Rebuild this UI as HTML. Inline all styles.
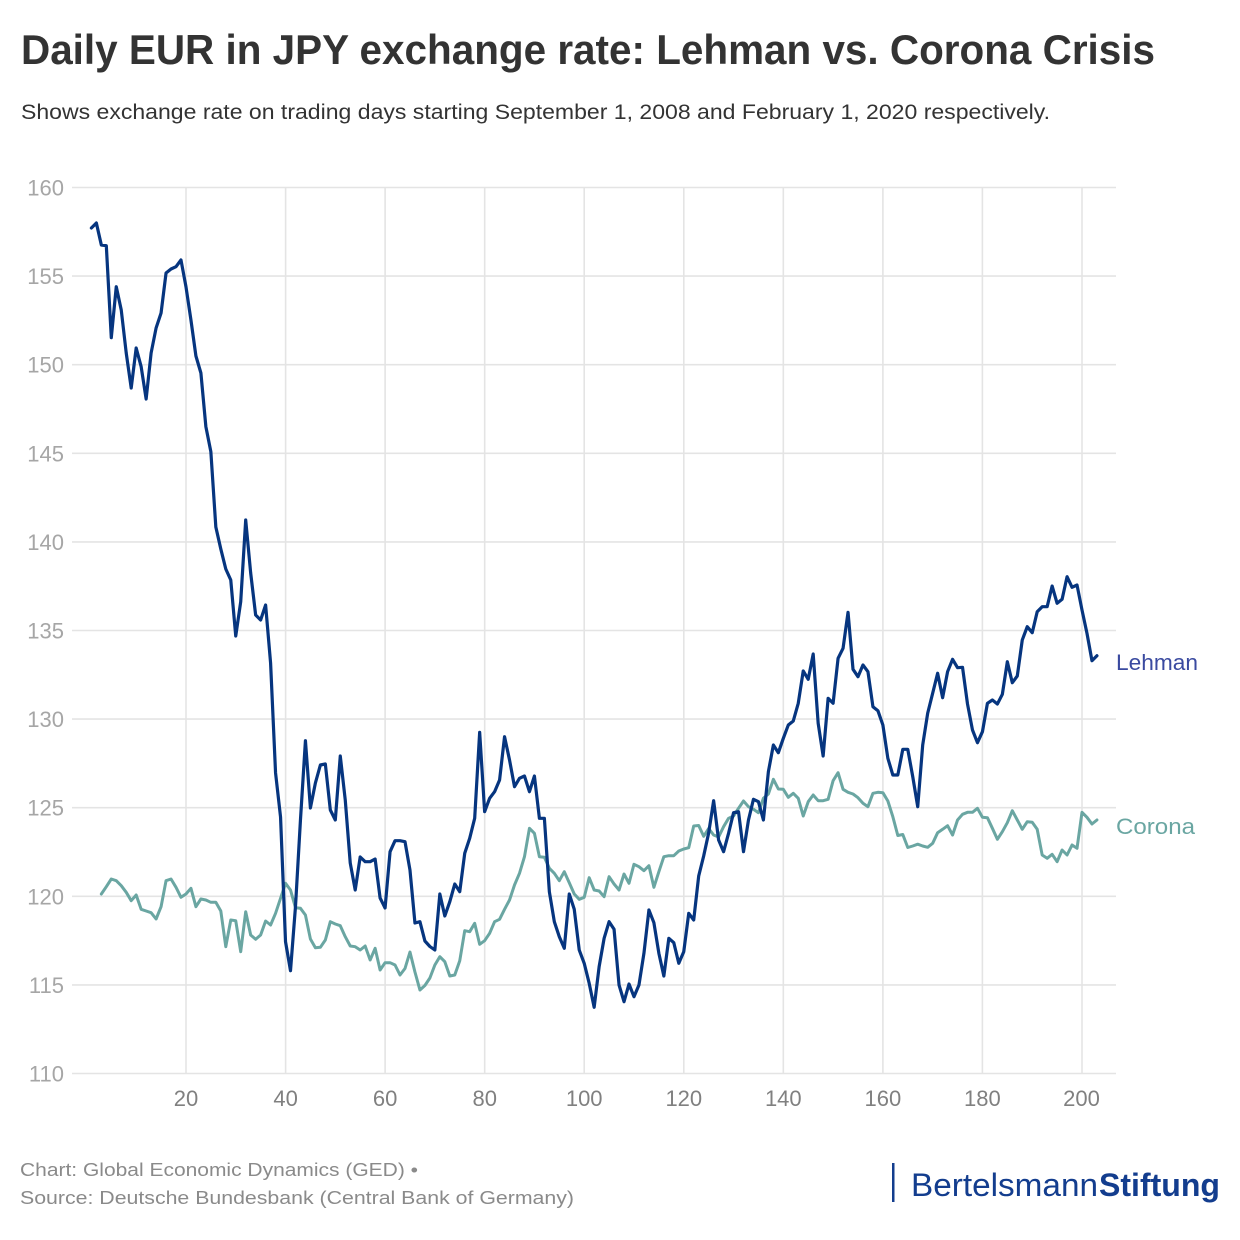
<!DOCTYPE html>
<html>
<head>
<meta charset="utf-8">
<style>
  html,body{margin:0;padding:0;background:#fff;}
  svg{display:block;}
  text{font-family:"Liberation Sans",sans-serif;}
</style>
</head>
<body>
<svg width="1240" height="1240" viewBox="0 0 1240 1240" xmlns="http://www.w3.org/2000/svg">
  <rect x="0" y="0" width="1240" height="1240" fill="#ffffff"/>

  <!-- Title & subtitle -->
  <text x="21" y="64" font-size="42" font-weight="bold" fill="#333333" textLength="1134" lengthAdjust="spacingAndGlyphs">Daily EUR in JPY exchange rate: Lehman vs. Corona Crisis</text>
  <text x="21" y="119" font-size="21" fill="#333333" textLength="1029" lengthAdjust="spacingAndGlyphs">Shows exchange rate on trading days starting September 1, 2008 and February 1, 2020 respectively.</text>

  <!-- Grid -->
  <g stroke="#e4e4e4" stroke-width="1.6" fill="none">
    <line x1="72" y1="187.5" x2="1116" y2="187.5"/>
    <line x1="72" y1="276.1" x2="1116" y2="276.1"/>
    <line x1="72" y1="364.7" x2="1116" y2="364.7"/>
    <line x1="72" y1="453.3" x2="1116" y2="453.3"/>
    <line x1="72" y1="541.9" x2="1116" y2="541.9"/>
    <line x1="72" y1="630.5" x2="1116" y2="630.5"/>
    <line x1="72" y1="719.1" x2="1116" y2="719.1"/>
    <line x1="72" y1="807.7" x2="1116" y2="807.7"/>
    <line x1="72" y1="896.3" x2="1116" y2="896.3"/>
    <line x1="72" y1="984.9" x2="1116" y2="984.9"/>
    <line x1="72" y1="1073.5" x2="1116" y2="1073.5"/>
    <line x1="186" y1="187.5" x2="186" y2="1073.5"/>
    <line x1="285.6" y1="187.5" x2="285.6" y2="1073.5"/>
    <line x1="385.1" y1="187.5" x2="385.1" y2="1073.5"/>
    <line x1="484.7" y1="187.5" x2="484.7" y2="1073.5"/>
    <line x1="584.2" y1="187.5" x2="584.2" y2="1073.5"/>
    <line x1="683.8" y1="187.5" x2="683.8" y2="1073.5"/>
    <line x1="783.3" y1="187.5" x2="783.3" y2="1073.5"/>
    <line x1="882.9" y1="187.5" x2="882.9" y2="1073.5"/>
    <line x1="982.4" y1="187.5" x2="982.4" y2="1073.5"/>
    <line x1="1082" y1="187.5" x2="1082" y2="1073.5"/>
  </g>

  <!-- Y labels -->
  <g font-size="22" fill="#a6a6a6" text-anchor="end">
    <text x="64" y="195.5">160</text>
    <text x="64" y="284.1">155</text>
    <text x="64" y="372.7">150</text>
    <text x="64" y="461.3">145</text>
    <text x="64" y="549.9">140</text>
    <text x="64" y="638.5">135</text>
    <text x="64" y="727.1">130</text>
    <text x="64" y="815.7">125</text>
    <text x="64" y="904.3">120</text>
    <text x="64" y="992.9">115</text>
    <text x="64" y="1081.5">110</text>
  </g>

  <!-- X labels -->
  <g font-size="22" fill="#808080" text-anchor="middle">
    <text x="186" y="1106">20</text>
    <text x="285.6" y="1106">40</text>
    <text x="385.1" y="1106">60</text>
    <text x="484.7" y="1106">80</text>
    <text x="584.2" y="1106">100</text>
    <text x="683.8" y="1106">120</text>
    <text x="783.3" y="1106">140</text>
    <text x="882.9" y="1106">160</text>
    <text x="982.4" y="1106">180</text>
    <text x="1081.5" y="1106">200</text>
  </g>

  <!-- Series -->
  <g transform="translate(86.4,0) scale(4.978,1)" fill="none" stroke-linejoin="round" stroke-linecap="round">
    <polyline vector-effect="non-scaling-stroke" stroke="#6aa6a2" stroke-width="3" points="3,894 4,886.7 5,879 6,880.7 7,885.7 8,892.3 9,900.7 10,895 11,909.3 12,911 13,912.7 14,919 15,906.7 16,880.7 17,879 18,887.3 19,897.3 20,894 21,888.3 22,906.7 23,899 24,900 25,902.3 26,902.3 27,911 28,946.7 29,920 30,920.7 31,951.7 32,911.7 33,935 34,939.3 35,935 36,921 37,925 38,913.3 39,898.3 40,883.3 41,890 42,907.7 43,908.3 44,915 45,939 46,947.7 47,947.3 48,940 49,921.7 50,924 51,925.7 52,936.7 53,946 54,946.7 55,950 56,946 57,960 58,948.3 59,970 60,962.7 61,962.7 62,965 63,975 64,968.5 65,952 66,972 67,990 68,985.5 69,978 70,965 71,956.7 72,961.7 73,976 74,975 75,960.7 76,930.7 77,931.7 78,923.3 79,944.3 80,940.7 81,933.3 82,921.7 83,919.3 84,909.3 85,900 86,885 87,873.3 88,856.7 89,828.3 90,833.3 91,856.7 92,857.3 93,868.3 94,873.3 95,880.7 96,871.7 97,882.7 98,894 99,899.3 100,897.3 101,877.7 102,890 103,891 104,896.7 105,876.7 106,884 107,890 108,874 109,883.3 110,864.3 111,866.7 112,870.7 113,865.7 114,887.3 115,871.7 116,856.7 117,855.7 118,855.7 119,851 120,849 121,847.7 122,826 123,825.5 124,836.3 125,828.5 126,835 127,837 128,826.7 129,818.3 130,816 131,808.3 132,801 133,806.7 134,809.3 135,812.7 136,798.3 137,794 138,779.3 139,789 140,789.3 141,797.3 142,793.3 143,798.3 144,816 145,801.7 146,795 147,800.7 148,800.7 149,799.3 150,780.7 151,772.7 152,789.3 153,792.3 154,794 155,797.7 156,803.3 157,806.7 158,793.3 159,792.3 160,792.7 161,801 162,816.7 163,835.5 164,834.5 165,847.5 166,846 167,844.2 168,846 169,847.3 170,843.3 171,832.7 172,829.3 173,825.7 174,835 175,820 176,814.3 177,812.3 178,812.3 179,808.3 180,817.3 181,817.7 182,828.3 183,839.3 184,831.7 185,822.7 186,810.7 187,820 188,829.3 189,821.7 190,822.3 191,829.3 192,855 193,858.3 194,854.3 195,861.7 196,850 197,855 198,845 199,848.3 200,812.3 201,817.3 202,824 203,820"/>
    <polyline vector-effect="non-scaling-stroke" stroke="#06357f" stroke-width="3.2" points="1,228 2,223 3,245 4,245.7 5,337.7 6,286.7 7,310 8,353 9,388 10,348 11,366.7 12,399 13,353 14,328 15,313 16,273 17,269 18,266.7 19,260 20,286.7 21,320 22,356 23,373 24,426.7 25,451.7 26,527 27,549 28,569 29,580 30,636 31,601.7 32,520 33,573 34,615 35,620 36,605 37,663 38,773 39,817 40,941.7 41,970.7 42,906.7 43,820 44,740.7 45,808 46,783 47,765 48,764 49,810 50,820 51,756 52,800 53,863 54,890 55,857 56,861.7 57,861.7 58,859 59,898 60,908 61,851.7 62,840.7 63,840.7 64,841.7 65,870 66,923 67,921.7 68,941 69,946.5 70,950 71,894 72,916 73,901.7 74,884 75,891.7 76,853.3 77,838.3 78,818.3 79,732.3 80,811.7 81,798.3 82,791.7 83,780 84,736.7 85,760 86,786.7 87,778.3 88,776 89,791.7 90,776 91,818.3 92,818.3 93,891.7 94,921.7 95,936.7 96,948.3 97,894 98,909.3 99,950 100,963.3 101,983.3 102,1007.3 103,966.7 104,938.3 105,921.7 106,929.3 107,985 108,1001.7 109,984 110,996.7 111,985 112,953.3 113,910 114,922.7 115,953.3 116,976 117,938.3 118,942.7 119,963.3 120,951.7 121,913.3 122,920 123,876 124,856 125,833 126,800.7 127,840 128,851.7 129,833.3 130,812.7 131,811.7 132,851.7 133,820 134,799.3 135,801.7 136,820 137,771.7 138,745 139,752.7 140,738.3 141,725 142,721 143,703.3 144,671 145,679.3 146,654 147,723.3 148,756 149,698.3 150,703.3 151,658.3 152,648.3 153,612.3 154,669.3 155,676.7 156,665 157,671.7 158,706.7 159,710.7 160,725 161,758.3 162,775 163,775 164,749.3 165,749.3 166,776.7 167,806.7 168,745 169,713.3 170,693.3 171,673.3 172,697.7 173,671.7 174,659.3 175,667.7 176,667.3 177,704 178,730 179,742.7 180,731.7 181,703.3 182,700 183,704 184,694.3 185,661.7 186,682.7 187,676 188,640 189,626.7 190,632.7 191,611.7 192,606.7 193,606.7 194,586 195,603.3 196,599.3 197,576.7 198,587.3 199,585 200,610 201,633.3 202,660.7 203,655.7"/>
  </g>

  <!-- Series labels -->
  <text x="1116" y="670" font-size="22" fill="#3a4aa0" textLength="82" lengthAdjust="spacingAndGlyphs">Lehman</text>
  <text x="1116" y="834" font-size="22" fill="#6aa6a2" textLength="79" lengthAdjust="spacingAndGlyphs">Corona</text>

  <!-- Footer -->
  <text x="20" y="1176" font-size="18" fill="#8a8a8a" textLength="398" lengthAdjust="spacingAndGlyphs">Chart: Global Economic Dynamics (GED) •</text>
  <text x="20" y="1204" font-size="18" fill="#8a8a8a" textLength="554" lengthAdjust="spacingAndGlyphs">Source: Deutsche Bundesbank (Central Bank of Germany)</text>

  <!-- Logo -->
  <rect x="892" y="1163" width="2.5" height="39" fill="#133d8e"/>
  <text x="911" y="1196" font-size="32" fill="#133d8e" textLength="187" lengthAdjust="spacingAndGlyphs">Bertelsmann</text>
  <text x="1099" y="1196" font-size="32" font-weight="bold" fill="#133d8e" textLength="121" lengthAdjust="spacingAndGlyphs">Stiftung</text>
</svg>
</body>
</html>
